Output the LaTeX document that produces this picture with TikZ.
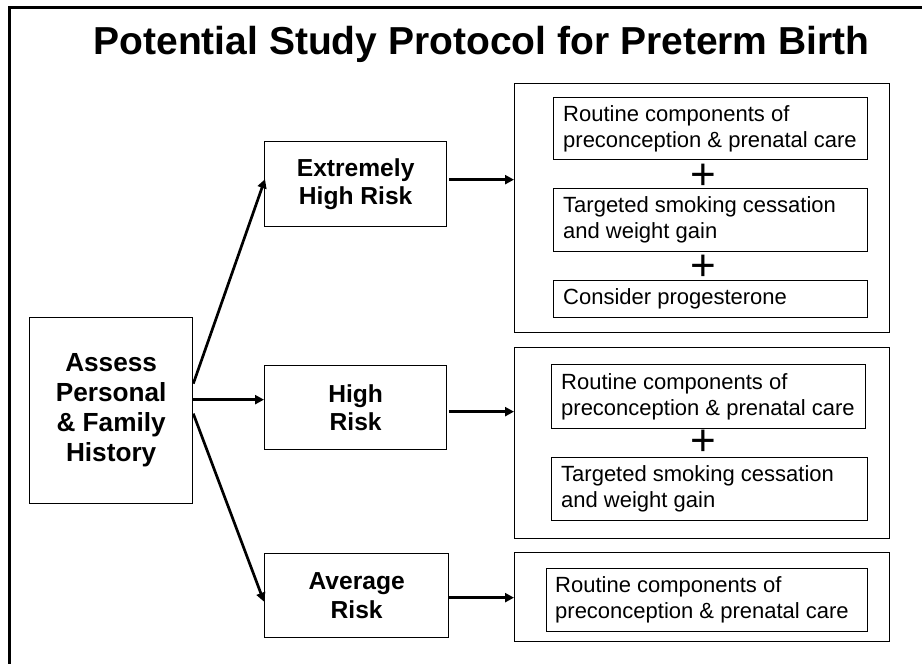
\documentclass[tikz,border=0pt]{standalone}
\usepackage{fontspec}
\setmainfont{Liberation Sans}
\usetikzlibrary{arrows.meta,calc}
\begin{document}
\begin{tikzpicture}[x=1pt,y=-1pt,
  box/.style={draw, line width=1.3pt, inner sep=0pt, anchor=north west},
  riskbox/.style={box, align=center, font=\fontsize{24.6}{28.5}\selectfont\bfseries},
  txt/.style={anchor=west, inner sep=0pt, align=left, font=\fontsize{22}{26}\selectfont},
  plussign/.style={inner sep=0pt, font=\fontsize{44}{44}\selectfont},
  arr/.style={line width=2.7pt, -{Triangle[length=9pt,width=9pt]}},
  border/.style={line width=3pt}]
\useasboundingbox (0,0) rectangle (922,664);
% page border lines
\coordinate (tl) at (9,7);
\coordinate (tr) at (922,7);
\coordinate (bl) at (9,664);
\draw[border] (bl) -- (tl) -- (tr);
% title
\node[anchor=base, inner sep=0pt, font=\fontsize{39}{39}\selectfont\bfseries] (title) at (481.5,54) {Potential Study Protocol for Preterm Birth};
% left box
\node[box, align=center, minimum width=163pt, minimum height=186pt, font=\fontsize{26.2}{30}\selectfont\bfseries] (assess) at (29,317) {Assess\\Personal\\\& Family\\History};
% risk boxes
\node[riskbox, minimum width=182pt, minimum height=85pt] (ext) at (264,141) {Extremely\\High Risk};
\node[riskbox, minimum width=182pt, minimum height=84pt] (high) at (264,365) {High\\Risk};
\node[riskbox, minimum width=184pt, minimum height=84pt] (avg) at (264,553) {Average\\Risk};
% outer boxes
\node[box, minimum width=375pt, minimum height=249pt] (o1) at (514,83) {};
\node[box, minimum width=375pt, minimum height=191pt] (o2) at (514,347) {};
\node[box, minimum width=375pt, minimum height=89pt] (o3) at (514,552) {};
% inner boxes
\node[box, minimum width=314pt, minimum height=62pt] (o1a) at (553,97) {};
\node[box, minimum width=314pt, minimum height=63pt] (o1b) at (553,188) {};
\node[box, minimum width=314pt, minimum height=37pt] (o1c) at (553,280) {};
\node[box, minimum width=314pt, minimum height=64pt] (o2a) at (551,364) {};
\node[box, minimum width=316pt, minimum height=63pt] (o2b) at (551,457) {};
\node[box, minimum width=321pt, minimum height=63pt] (o3a) at (546,568) {};
% texts in inner boxes
\node[txt] (o1at) at ($(o1a.west)+(10,0)$) {Routine components of\\preconception \& prenatal care};
\node[txt] (o1bt) at ($(o1b.west)+(10,0)$) {Targeted smoking cessation\\and weight gain};
\node[txt] (o1ct) at ($(o1c.west)+(10,0)$) {Consider progesterone};
\node[txt] (o2at) at ($(o2a.west)+(10,0)$) {Routine components of\\preconception \& prenatal care};
\node[txt] (o2bt) at ($(o2b.west)+(10,0)$) {Targeted smoking cessation\\and weight gain};
\node[txt] (o3at) at ($(o3a.west)+(9,0)$) {Routine components of\\preconception \& prenatal care};
% plus signs
\node[plussign] (p1) at (703,177) {+};
\node[plussign] (p2) at (703,268) {+};
\node[plussign] (p3) at (703,443) {+};
% arrows from assess
\coordinate (s1) at ($(assess.east)+(0,-27)$);
\coordinate (s2) at ($(assess.east)+(0,-11)$);
\coordinate (s3) at ($(assess.east)+(0,3)$);
\coordinate (t1) at ($(ext.west)+(1,-5)$);
\coordinate (t2) at ($(high.west)+(0,-8)$);
\coordinate (t3) at ($(avg.west)+(0,6)$);
\draw[arr] (s1) -- (t1);
\draw[arr] (s2) -- (t2);
\draw[arr] (s3) -- (t3);
% arrows to outer boxes
\coordinate (e1) at ($(ext.east)+(2,-4.5)$);
\coordinate (e2) at ($(high.east)+(2,4)$);
\coordinate (e3) at ($(avg.east)+(0,2)$);
\draw[arr] (e1) -- (e1 -| o1.west);
\draw[arr] (e2) -- (e2 -| o2.west);
\draw[arr] (e3) -- (e3 -| o3.west);
\end{tikzpicture}
\end{document}
